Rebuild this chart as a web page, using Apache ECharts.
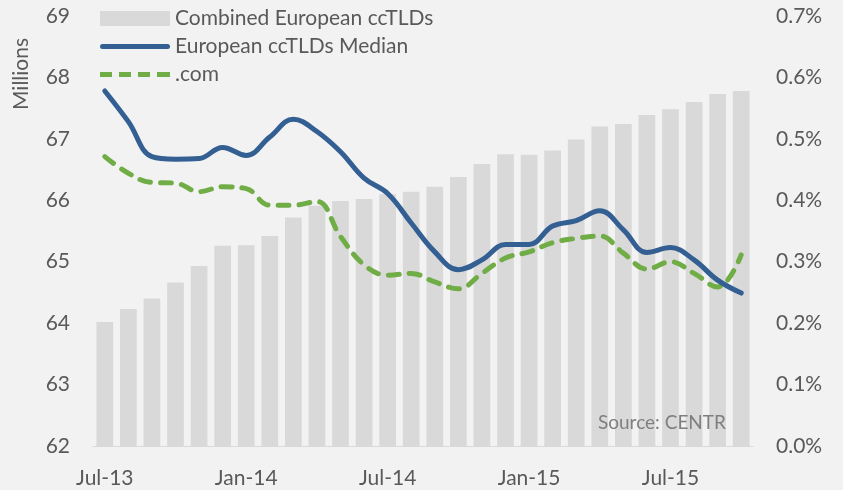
<!DOCTYPE html>
<html>
<head>
<meta charset="utf-8">
<script src="https://cdn.jsdelivr.net/npm/echarts@6/dist/echarts.min.js"></script>
<style>
html, body { margin: 0; padding: 0; background: #f2f2f2; }
#chart { width: 843px; height: 490px; }
</style>
</head>
<body>
<div id="chart"></div>
<script>
var months = ['Jul-13','Aug-13','Sep-13','Oct-13','Nov-13','Dec-13',
  'Jan-14','Feb-14','Mar-14','Apr-14','May-14','Jun-14',
  'Jul-14','Aug-14','Sep-14','Oct-14','Nov-14','Dec-14',
  'Jan-15','Feb-15','Mar-15','Apr-15','May-15','Jun-15',
  'Jul-15','Aug-15','Sep-15','Oct-15'];

// combined European ccTLDs, millions
var combined = [64.02, 64.23, 64.40, 64.66, 64.93, 65.26, 65.27, 65.42, 65.72, 65.91,
  65.99, 66.02, 66.10, 66.14, 66.22, 66.38, 66.59, 66.75, 66.74, 66.81,
  66.99, 67.20, 67.24, 67.39, 67.48, 67.60, 67.73, 67.78];

// monthly growth, percent
var median = [0.578, 0.528, 0.471, 0.467, 0.468, 0.486, 0.473, 0.503, 0.532, 0.512,
  0.479, 0.436, 0.411, 0.363, 0.316, 0.287, 0.303, 0.328, 0.328, 0.358,
  0.367, 0.383, 0.352, 0.315, 0.323, 0.303, 0.270, 0.249];

var dotcom = [0.471, 0.444, 0.429, 0.428, 0.414, 0.422, 0.419, 0.392, 0.392, 0.398,
  0.341, 0.295, 0.278, 0.281, 0.267, 0.256, 0.281, 0.306, 0.316, 0.331,
  0.338, 0.342, 0.314, 0.288, 0.300, 0.281, 0.259, 0.311];

var font = 'Lato';
var txt = '#595959';
var blue = '#335f93';
var green = '#70ad47';

var myChart = echarts.init(document.getElementById('chart'));
var option = {
    backgroundColor: '#f2f2f2',
    textStyle: { fontFamily: font },
    grid: { left: 93, right: 90, top: 16, bottom: 44, containLabel: false },
    legend: {
        orient: 'vertical',
        left: 95,
        top: 3,
        itemWidth: 70,
        itemHeight: 15,
        itemGap: 7,
        textStyle: { fontFamily: font, fontSize: 21, color: txt },
        data: [
            { name: 'Combined European ccTLDs', icon: 'rect' },
            { name: 'European ccTLDs Median', icon: 'path://M2.5,0H67.5A2.5,2.5,0,0,1,67.5,5H2.5A2.5,2.5,0,0,1,2.5,0Z' },
            { name: '.com', icon: 'path://M0,0H12V5H0Z M19,0H31V5H19Z M38,0H50V5H38Z M57,0H70V5H57Z' }
        ]
    },
    graphic: [
        {
            type: 'text',
            x: 11, y: 110,
            rotation: Math.PI / 2,
            style: { text: 'Millions', fontFamily: font, fontSize: 21, fill: txt }
        },
        {
            type: 'text',
            left: 598, top: 413, z: 100,
            style: { text: 'Source: CENTR', fontFamily: font, fontSize: 19, fill: '#7f7f7f' }
        }
    ],
    xAxis: [
        {
            type: 'category',
            data: months,
            axisLine: { lineStyle: { color: '#d9d9d9', width: 1 } },
            axisTick: { show: false },
            axisLabel: { interval: 5, margin: 22, fontSize: 21, color: txt, fontFamily: font }
        }
    ],
    yAxis: [
        {
            type: 'value',
            min: 62, max: 69, interval: 1,
            axisLine: { show: false },
            axisTick: { show: false },
            splitLine: { show: false },
            axisLabel: { margin: 23, fontSize: 21, color: txt, fontFamily: font }
        },
        {
            type: 'value',
            min: 0, max: 0.7, interval: 0.1,
            axisLine: { show: false },
            axisTick: { show: false },
            splitLine: { show: false },
            axisLabel: {
                margin: 23, fontSize: 21, color: txt, fontFamily: font,
                formatter: function (v) { return v.toFixed(1) + '%'; }
            }
        }
    ],
    series: [
        {
            name: 'Combined European ccTLDs',
            type: 'bar',
            data: combined,
            barCategoryGap: '29%',
            itemStyle: { color: '#d9d9d9' },
            z: 1
        },
        {
            name: 'European ccTLDs Median',
            type: 'line',
            yAxisIndex: 1,
            data: median,
            smooth: 0.4,
            symbol: 'none',
            lineStyle: { color: blue, width: 5, cap: 'round' },
            itemStyle: { color: blue },
            z: 3
        },
        {
            name: '.com',
            type: 'line',
            yAxisIndex: 1,
            data: dotcom,
            smooth: 0.4,
            symbol: 'none',
            lineStyle: { color: green, width: 5, type: [11, 10], cap: 'round' },
            itemStyle: { color: green },
            z: 2
        }
    ]
};
myChart.setOption(option);
</script>
</body>
</html>
